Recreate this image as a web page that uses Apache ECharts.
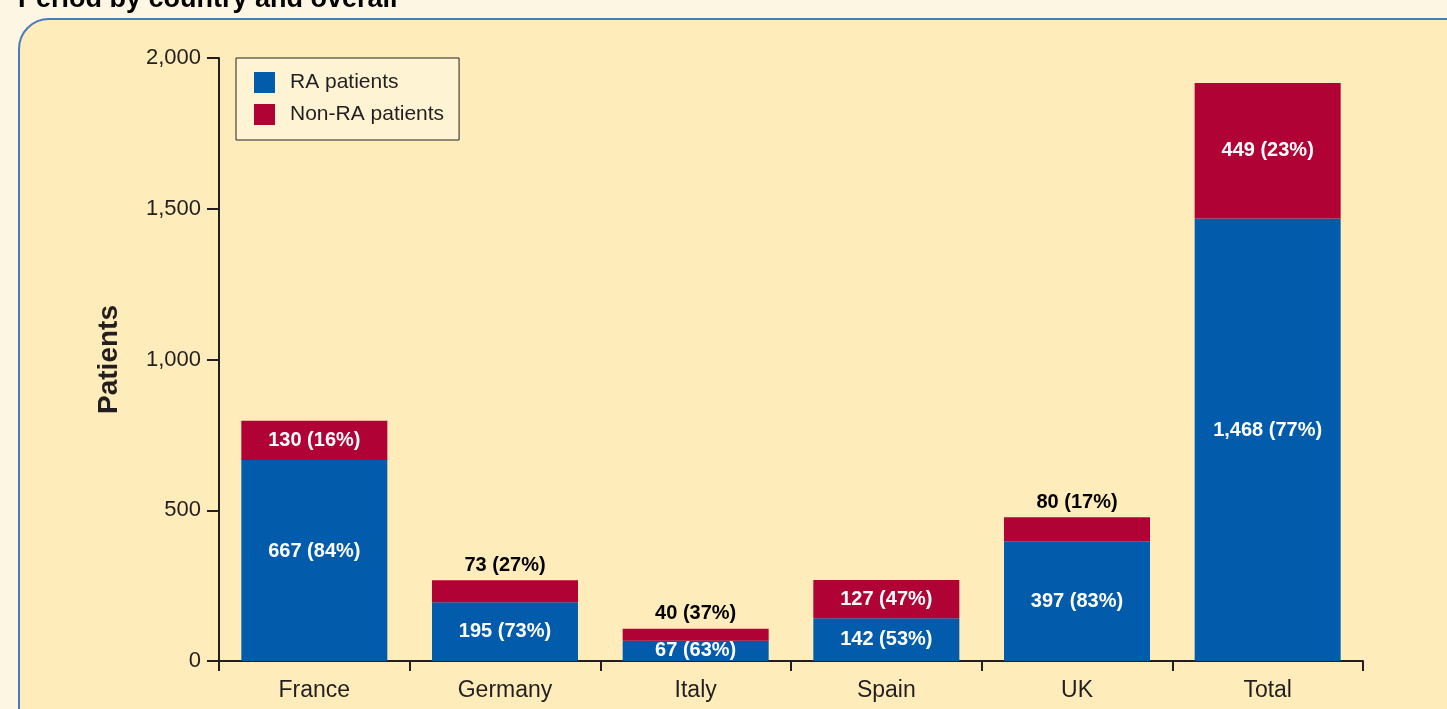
<!DOCTYPE html>
<html>
<head>
<meta charset="utf-8">
<script src="https://cdn.jsdelivr.net/npm/echarts@6/dist/echarts.min.js"></script>
<style>
  html, body { margin: 0; padding: 0; background: #fdf6e2; }
  #chart { width: 1447px; height: 709px; }
</style>
</head>
<body>
<div id="chart"></div>
<script>
const countries = ['France', 'Germany', 'Italy', 'Spain', 'UK', 'Total'];
const raPatients = [667, 195, 67, 142, 397, 1468];
const nonRaPatients = [130, 73, 40, 127, 80, 449];
const yTicks = [0, 500, 1000, 1500, 2000];

const blue = '#035cab';
const red = '#b00234';
const ink = '#231f20';
const font = '"Liberation Sans", Arial, sans-serif';

const fmt = (v) => v.toLocaleString('en-US');
const pct = (v, i) => Math.round(v / (raPatients[i] + nonRaPatients[i]) * 100);

const insideLabel = {
    show: true,
    position: 'inside',
    color: '#ffffff',
    fontFamily: font,
    fontWeight: 'bold',
    fontSize: 20,
};

// tall blue segments carry their label a little above the middle
const raData = raPatients.map((v, i) => ({
    value: v,
    label: {
        ...insideLabel,
        offset: v > 500 ? [0, -9] : [0, 0],
        formatter: `${fmt(v)} (${pct(v, i)}%)`,
    },
}));

// thin red segments get their label above the bar, in black
const nonRaData = nonRaPatients.map((v, i) => {
    const small = v < 100;
    return {
        value: v,
        label: {
            ...insideLabel,
            position: small ? 'top' : 'inside',
            distance: 5,
            color: small ? '#000000' : '#ffffff',
            formatter: `${fmt(v)} (${pct(v, i)}%)`,
        },
    };
});

const chart = echarts.init(document.getElementById('chart'), null, { renderer: 'canvas' });

chart.setOption({
    backgroundColor: '#fdf6e2',
    animation: false,
    textStyle: { fontFamily: font },
    graphic: [
        {
            type: 'rect',
            z: -10,
            shape: { x: 19, y: 19, width: 1460, height: 720, r: 30 },
            style: { fill: '#feecba', stroke: '#4a7bc0', lineWidth: 2 },
        },
        {
            type: 'text',
            x: 18,
            y: 13,
            style: {
                text: 'Period by country and overall',
                font: `bold 27px ${font}`,
                fill: '#000000',
                verticalAlign: 'bottom',
            },
        },
    ],
    grid: { left: 219, right: 84, top: 58, bottom: 48 },
    legend: {
        orient: 'vertical',
        left: 236,
        top: 58,
        itemWidth: 21,
        itemHeight: 21,
        itemGap: 11,
        padding: [14, 15, 15, 18],
        backgroundColor: '#fef4d4',
        borderColor: ink,
        borderWidth: 1,
        borderRadius: 0,
        icon: 'rect',
        textStyle: { color: ink, fontSize: 21, fontFamily: font, padding: [0, 0, 0, 10] },
        data: ['RA patients', 'Non-RA patients'],
    },
    xAxis: {
        type: 'category',
        data: countries,
        boundaryGap: true,
        axisLine: { lineStyle: { color: ink, width: 2 } },
        axisTick: { show: true, length: 10, lineStyle: { color: ink, width: 2 } },
        axisLabel: { color: ink, fontSize: 23, fontFamily: font, margin: 18 },
    },
    yAxis: {
        type: 'value',
        min: yTicks[0],
        max: yTicks[yTicks.length - 1],
        interval: 500,
        name: 'Patients',
        nameLocation: 'middle',
        nameGap: 96,
        nameTextStyle: { color: ink, fontSize: 28, fontWeight: 'bold', fontFamily: font },
        axisLine: { show: true, lineStyle: { color: ink, width: 2 } },
        axisTick: { show: true, length: 12, lineStyle: { color: ink, width: 2 } },
        axisLabel: {
            color: ink,
            fontSize: 22,
            fontFamily: font,
            margin: 18,
            formatter: (v) => fmt(v),
        },
        splitLine: { show: false },
    },
    series: [
        {
            name: 'RA patients',
            type: 'bar',
            stack: 'total',
            barWidth: 146,
            itemStyle: { color: blue },
            data: raData,
        },
        {
            name: 'Non-RA patients',
            type: 'bar',
            stack: 'total',
            barWidth: 146,
            itemStyle: { color: red },
            data: nonRaData,
        },
    ],
});
</script>
</body>
</html>
